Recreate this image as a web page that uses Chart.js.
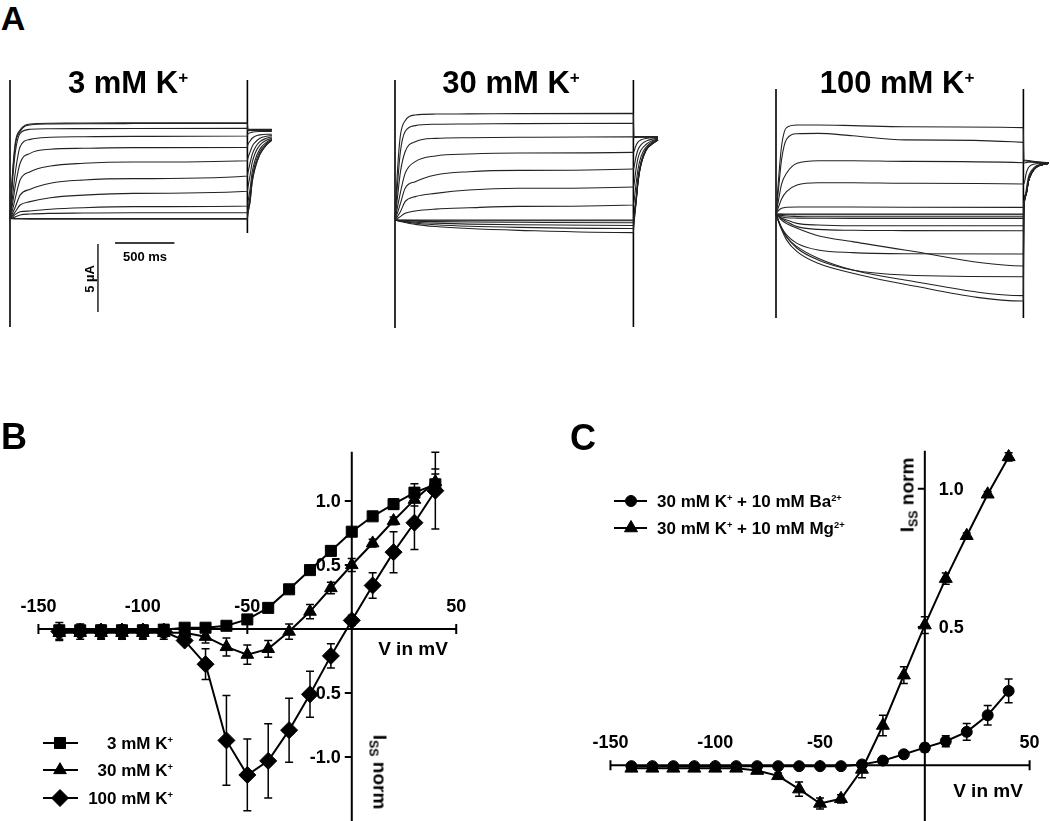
<!DOCTYPE html>
<html>
<head>
<meta charset="utf-8">
<script src="https://cdn.jsdelivr.net/npm/chart.js@4.4.1/dist/chart.umd.min.js"></script>
<style>
  body { margin: 0; width: 1050px; height: 821px; overflow: hidden; position: relative; background: #fff;
         font-family: "Liberation Sans", Arial, sans-serif; font-weight: bold; color: #000; }
  canvas { position: absolute; }
  .t { position: absolute; white-space: nowrap; line-height: 1; z-index: 2; }
  .t sup { font-size: 55%; line-height: 0; vertical-align: 0.55em; }
  .t sub { font-size: 65%; line-height: 0; vertical-align: -0.3em; }
</style>
</head>
<body>
<script>
// ---------- data ----------

// panel A: sample times (ms) during the 2 s step and during the tail
const aTime = [0, 20, 45, 85, 170, 340, 620, 1040, 2000];
const aTailTime = [2003, 2023, 2040, 2065, 2105, 2160, 2206];

// 3 mM K+ currents (uA), one row per voltage step
const k3Pulse = [
  [0, 3.2, 5.6, 6.5, 6.95, 7.0, 7.02, 7.03, 7.04],
  [0, 3.0, 5.4, 6.4, 6.88, 6.95, 6.97, 6.98, 6.99],
  [0, 2.6, 4.9, 6.26, 6.56, 6.60, 6.61, 6.62, 6.63],
  [0, 1.5, 3.4, 5.28, 5.82, 5.97, 6.01, 6.04, 6.07],
  [0, 1.0, 2.4, 4.06, 4.79, 5.09, 5.16, 5.21, 5.23],
  [0, 0.6, 1.5, 2.83, 3.44, 3.86, 4.06, 4.15, 4.25],
  [0, 0.35, 0.85, 1.72, 2.15, 2.59, 2.83, 2.93, 3.13],
  [0, 0.2, 0.5, 0.99, 1.24, 1.53, 1.72, 1.85, 2.0],
  [0, 0.12, 0.3, 0.5, 0.55, 0.68, 0.79, 0.87, 0.92],
  [0, 0.05, 0.12, 0.26, 0.33, 0.38, 0.40, 0.42, 0.43],
  [0, 0, 0, 0, 0, 0, 0, 0, 0],
  [0, -0.02, -0.03, -0.04, -0.05, -0.05, -0.05, -0.05, -0.05]
];
const k3Tail = [
  [6.56, 6.56, 6.56, 6.55, 6.55, 6.55, 6.55],
  [6.52, 6.52, 6.52, 6.52, 6.52, 6.52, 6.52],
  [6.45, 6.47, 6.48, 6.48, 6.48, 6.48, 6.48],
  [6.2, 6.3, 6.35, 6.38, 6.4, 6.4, 6.4],
  [5.4, 5.7, 5.9, 6.05, 6.15, 6.2, 6.2],
  [4.4, 4.9, 5.3, 5.6, 5.9, 6.05, 6.1],
  [3.3, 4.1, 4.7, 5.2, 5.65, 5.9, 6.0],
  [2.2, 3.2, 4.1, 4.8, 5.4, 5.75, 5.9],
  [1.1, 2.2, 3.4, 4.3, 5.1, 5.6, 5.82],
  [0.6, 1.7, 3.0, 4.0, 4.9, 5.5, 5.78],
  [0.3, 1.3, 2.7, 3.74, 4.72, 5.42, 5.75],
  [0.25, 1.25, 2.65, 3.7, 4.7, 5.4, 5.74]
];
const k3OnSpike = [10.18, -7.98];
const k3OffSpike = [10.18, -1.07];

// 30 mM K+
const k30Pulse = [
  [0, 3.5, 6.2, 7.3, 7.72, 7.79, 7.80, 7.82, 7.84],
  [0, 2.5, 5.0, 6.5, 6.94, 7.04, 7.06, 7.09, 7.11],
  [0, 1.6, 3.5, 5.02, 5.76, 6.0, 6.05, 6.08, 6.12],
  [0, 0.9, 2.0, 3.43, 4.29, 4.71, 4.85, 4.93, 4.97],
  [0, 0.5, 1.2, 2.33, 2.82, 3.31, 3.55, 3.65, 3.75],
  [0, 0.25, 0.6, 1.35, 1.72, 1.96, 2.21, 2.33, 2.43],
  [0, 0.1, 0.25, 0.49, 0.66, 0.8, 0.9, 1.0, 1.1],
  [0, 0, 0, 0, 0, 0, 0, 0, 0],
  [0, -0.01, -0.02, -0.03, -0.04, -0.05, -0.05, -0.05, -0.05],
  [0, -0.02, -0.04, -0.06, -0.09, -0.12, -0.15, -0.17, -0.2],
  [0, -0.03, -0.06, -0.1, -0.16, -0.23, -0.3, -0.35, -0.4],
  [0, -0.04, -0.08, -0.14, -0.24, -0.35, -0.46, -0.54, -0.62],
  [0, -0.05, -0.1, -0.18, -0.32, -0.48, -0.63, -0.76, -0.93]
];
const k30Tail = [
  [6.13, 6.13, 6.13, 6.13, 6.13, 6.13, 6.13],
  [6.1, 6.1, 6.1, 6.1, 6.1, 6.1, 6.1],
  [6.05, 6.07, 6.08, 6.08, 6.08, 6.08, 6.08],
  [5.0, 5.5, 5.75, 5.9, 6.0, 6.05, 6.05],
  [3.8, 4.7, 5.2, 5.55, 5.8, 5.95, 6.0],
  [2.5, 3.8, 4.6, 5.15, 5.55, 5.85, 5.95],
  [1.2, 2.7, 3.8, 4.7, 5.35, 5.75, 5.92],
  [0.2, 1.6, 3.1, 4.3, 5.2, 5.65, 5.9],
  [0.15, 1.55, 3.05, 4.25, 5.18, 5.64, 5.9],
  [0.05, 1.5, 3.0, 4.2, 5.15, 5.63, 5.89],
  [-0.1, 1.45, 2.95, 4.18, 5.13, 5.62, 5.89],
  [-0.3, 1.4, 2.9, 4.15, 5.12, 5.61, 5.88],
  [-0.5, 1.3, 2.85, 4.1, 5.1, 5.6, 5.88]
];
const k30OnSpike = [10.3, -7.94];
const k30OffSpike = [10.3, -7.87];

// 100 mM K+
const k100Pulse = [
  [0, 2.5, 5.0, 6.35, 6.54, 6.54, 6.5, 6.42, 6.35],
  [0, 1.8, 4.0, 5.5, 5.9, 5.93, 5.75, 5.45, 5.27],
  [0, 1.0, 2.2, 3.0, 3.73, 3.92, 3.92, 3.87, 3.77],
  [0, 0.5, 1.1, 1.64, 2.13, 2.3, 2.3, 2.26, 2.21],
  [0, 0.25, 0.42, 0.5, 0.52, 0.52, 0.51, 0.5, 0.49],
  [0, 0, 0, 0, 0, 0, 0, 0, 0],
  [0, -0.02, -0.03, -0.05, -0.05, -0.05, -0.05, -0.05, -0.05],
  [0, -0.05, -0.1, -0.15, -0.18, -0.2, -0.2, -0.2, -0.2],
  [0, -0.1, -0.2, -0.28, -0.3, -0.31, -0.32, -0.32, -0.32],
  [0, -0.15, -0.3, -0.44, -0.69, -0.81, -0.86, -0.86, -0.86],
  [0, -0.15, -0.35, -0.56, -0.93, -1.13, -1.2, -1.22, -1.23],
  [0, -0.5, -1.0, -1.54, -2.16, -2.65, -2.84, -2.92, -2.94],
  [0, -0.2, -0.45, -0.7, -1.05, -1.6, -2.03, -2.65, -3.82],
  [0, -0.5, -1.05, -1.67, -2.52, -3.38, -4.12, -4.49, -4.61],
  [0, -0.5, -1.05, -1.7, -2.4, -3.25, -4.12, -4.85, -6.0],
  [0, -0.55, -1.15, -1.9, -2.77, -3.63, -4.36, -5.17, -6.40]
];
const k100Tail = [
  [3.95, 3.95, 3.93, 3.9, 3.85, 3.8, 3.78],
  [3.9, 3.9, 3.88, 3.86, 3.82, 3.78, 3.76],
  [3.75, 3.78, 3.8, 3.8, 3.78, 3.76, 3.75],
  [2.2, 3.0, 3.4, 3.6, 3.7, 3.72, 3.74],
  [0.6, 1.8, 2.7, 3.2, 3.55, 3.68, 3.73],
  [0.5, 1.5, 2.4, 3.0, 3.45, 3.65, 3.73]
];
const k100OnSpike = [9.19, -7.65];
const k100OffSpike = [9.19, -7.65];

const scaleBarMs = 500;
const scaleBarUA = 5;

// panels B and C: steady state current vs voltage
const ivVolt = [-140, -130, -120, -110, -100, -90, -80, -70, -60, -50, -40, -30, -20, -10, 0, 10, 20, 30, 40];
const b3mM      = [-0.01, -0.01, -0.01, -0.01, -0.01, -0.005, 0.01, 0.01, 0.025, 0.075, 0.165, 0.31, 0.46, 0.61, 0.76, 0.88, 0.975, 1.065, 1.13];
const b3mMErr   = [0.02, 0.02, 0.02, 0.02, 0.02, 0.02, 0.02, 0.02, 0.02, 0.02, 0.02, 0.02, 0.03, 0.03, 0.03, 0.03, 0.04, 0.07, 0.08];
const b30mM     = [-0.03, -0.03, -0.03, -0.03, -0.03, -0.03, -0.03, -0.06, -0.14, -0.20, -0.155, -0.02, 0.136, 0.32, 0.50, 0.67, 0.845, 1.01, 1.15];
const b30mMErr  = [0.05, 0.05, 0.05, 0.05, 0.05, 0.05, 0.04, 0.05, 0.07, 0.075, 0.065, 0.06, 0.055, 0.045, 0.05, 0.03, 0.03, 0.05, 0.1];
const b100mM    = [-0.02, -0.02, -0.02, -0.02, -0.02, -0.02, -0.09, -0.275, -0.87, -1.14, -1.03, -0.79, -0.51, -0.21, 0.067, 0.34, 0.60, 0.83, 1.08];
const b100mMErr = [0.07, 0.06, 0.05, 0.05, 0.05, 0.04, 0.03, 0.12, 0.35, 0.28, 0.29, 0.25, 0.18, 0.095, 0.04, 0.1, 0.16, 0.21, 0.3];

const cBa    = [-0.003, -0.003, -0.003, -0.003, -0.003, -0.003, -0.003, -0.003, -0.003, -0.003, -0.003, 0.003, 0.017, 0.04, 0.064, 0.087, 0.121, 0.181, 0.269];
const cBaErr = [0.004, 0.004, 0.004, 0.004, 0.004, 0.004, 0.004, 0.004, 0.004, 0.004, 0.004, 0.006, 0.01, 0.012, 0.015, 0.02, 0.03, 0.035, 0.043];
const cMg    = [-0.011, -0.011, -0.011, -0.011, -0.011, -0.011, -0.019, -0.038, -0.086, -0.138, -0.121, -0.015, 0.144, 0.326, 0.507, 0.675, 0.83, 0.98, 1.115];
const cMgErr = [0.008, 0.008, 0.008, 0.008, 0.008, 0.008, 0.008, 0.01, 0.026, 0.02, 0.015, 0.03, 0.037, 0.03, 0.03, 0.02, 0.01, 0.01, 0.015];

const ivXTicks = [-150, -100, -50, 0, 50];
const ivXTickLabels = ['-150', '-100', '-50', '', '50'];
const bYTicks = [1.0, 0.5, -0.5, -1.0];
const bYTickLabels = ['1.0', '0.5', '-0.5', '-1.0'];
const cYTicks = [1.0, 0.5];
const cYTickLabels = ['1.0', '0.5'];

// ---------- helpers ----------

const FONT = '"Liberation Sans", Arial, sans-serif';

function put(html, x, y, size, align, rot) {
  let d = document.createElement('div');
  d.className = 't';
  d.innerHTML = html;
  d.style.left = x + 'px';
  d.style.top = y + 'px';
  d.style.fontSize = size + 'px';
  let tx = align === 'right' ? '-100%' : align === 'left' ? '0' : '-50%';
  d.style.transform = 'translate(' + tx + ',-50%)' + (rot ? ' rotate(' + rot + 'deg)' : '');
  document.body.appendChild(d);
}

// rect in page px; xMap / yMap say which page pixel a value sits on and px per unit
function makeChart(rect, xMap, yMap, datasets, plugins) {
  let cv = document.createElement('canvas');
  cv.width = rect.w;
  cv.height = rect.h;
  cv.style.left = rect.x + 'px';
  cv.style.top = rect.y + 'px';
  document.body.appendChild(cv);
  return new Chart(cv, {
    type: 'line',
    data: { datasets: datasets },
    options: {
      responsive: false,
      animation: false,
      events: [],
      layout: { padding: 0 },
      plugins: { legend: { display: false }, tooltip: { enabled: false } },
      scales: {
        x: { type: 'linear', display: false,
             min: (rect.x - xMap.px) / xMap.ppu,
             max: (rect.x + rect.w - xMap.px) / xMap.ppu },
        y: { type: 'linear', display: false,
             min: -(rect.y + rect.h - yMap.px) / yMap.ppu,
             max: (yMap.px - rect.y) / yMap.ppu }
      }
    },
    plugins: plugins || []
  });
}

function traceSets(pulse, tail, onSpike, offSpike) {
  let times = aTime.concat(aTailTime);
  let sets = pulse.map(function (row, i) {
    let vals = row.concat(tail[Math.min(i, tail.length - 1)]);
    return {
      data: times.map(function (t, j) { return { x: t, y: vals[j] }; }),
      borderColor: '#222', borderWidth: 1.1, pointRadius: 0,
      cubicInterpolationMode: 'monotone', fill: false
    };
  });
  [[0, onSpike], [aTime[aTime.length - 1], offSpike]].forEach(function (s) {
    sets.push({
      data: [{ x: s[0], y: s[1][0] }, { x: s[0], y: s[1][1] }],
      borderColor: '#000', borderWidth: 1.6, pointRadius: 0, tension: 0
    });
  });
  return sets;
}

// scale bars drawn through the 3 mM chart's scales
const scaleBarPlugin = {
  id: 'scaleBar',
  afterDatasetsDraw(chart) {
    let ctx = chart.ctx, xs = chart.scales.x, ys = chart.scales.y;
    ctx.save();
    ctx.strokeStyle = '#000';
    ctx.lineWidth = 1.3;
    ctx.beginPath();
    let hy = ys.getPixelForValue(-1.8);
    ctx.moveTo(xs.getPixelForValue(885), hy);
    ctx.lineTo(xs.getPixelForValue(885 + scaleBarMs), hy);
    let vx = xs.getPixelForValue(741);
    ctx.moveTo(vx, ys.getPixelForValue(-1.88));
    ctx.lineTo(vx, ys.getPixelForValue(-1.88 - scaleBarUA));
    ctx.stroke();
    ctx.restore();
  }
};

function ivAxes(o) {
  return {
    id: 'ivAxes',
    beforeDatasetsDraw(chart) {
      let ctx = chart.ctx, xs = chart.scales.x, ys = chart.scales.y;
      let ox = xs.getPixelForValue(0), oy = ys.getPixelForValue(0);
      ctx.save();
      ctx.strokeStyle = '#000';
      ctx.fillStyle = '#000';
      ctx.lineWidth = 2;
      ctx.beginPath();
      ctx.moveTo(xs.getPixelForValue(ivXTicks[0]), oy);
      ctx.lineTo(xs.getPixelForValue(ivXTicks[ivXTicks.length - 1]), oy);
      ctx.moveTo(ox, ys.getPixelForValue(o.yTop));
      ctx.lineTo(ox, chart.height);
      ivXTicks.forEach(function (v) {
        let px = xs.getPixelForValue(v);
        ctx.moveTo(px, oy - 5);
        ctx.lineTo(px, oy + 5);
      });
      o.yTicks.forEach(function (v) {
        let py = ys.getPixelForValue(v);
        ctx.moveTo(ox - 7, py);
        ctx.lineTo(ox, py);
      });
      ctx.stroke();

      ctx.font = 'bold 18px ' + FONT;
      ctx.textBaseline = 'middle';
      ctx.textAlign = 'center';
      ivXTickLabels.forEach(function (s, i) {
        ctx.fillText(s, xs.getPixelForValue(ivXTicks[i]), oy - 22);
      });
      ctx.textAlign = o.yLabelLeft ? 'right' : 'left';
      o.yTickLabels.forEach(function (s, i) {
        ctx.fillText(s, ox + (o.yLabelLeft ? -11 : 14), ys.getPixelForValue(o.yTicks[i]) + 1);
      });

      // error bars
      ctx.lineWidth = 1.5;
      ctx.beginPath();
      o.errors.forEach(function (pair) {
        ivVolt.forEach(function (v, i) {
          let px = xs.getPixelForValue(v);
          let lo = ys.getPixelForValue(pair[0][i] - pair[1][i]);
          let hi = ys.getPixelForValue(pair[0][i] + pair[1][i]);
          ctx.moveTo(px, lo); ctx.lineTo(px, hi);
          ctx.moveTo(px - 4, lo); ctx.lineTo(px + 4, lo);
          ctx.moveTo(px - 4, hi); ctx.lineTo(px + 4, hi);
        });
      });
      ctx.stroke();
      ctx.restore();
    },
    afterDatasetsDraw(chart) {
      let ctx = chart.ctx;
      ctx.save();
      ctx.strokeStyle = '#000';
      ctx.fillStyle = '#000';
      o.legend.forEach(function (it, i) {
        let ds = chart.data.datasets[i];
        let y = it.y - o.rect.y;
        ctx.lineWidth = 2;
        ctx.beginPath();
        ctx.moveTo(o.legendX[0] - o.rect.x, y);
        ctx.lineTo(o.legendX[1] - o.rect.x, y);
        ctx.stroke();
        ctx.lineWidth = 1;
        Chart.helpers.drawPoint(ctx, { pointStyle: ds.pointStyle, radius: ds.pointRadius, rotation: 0, borderWidth: 1 },
          o.legendX[2] - o.rect.x, y);
      });
      ctx.restore();
    }
  };
}

function ivSet(vals, style, r) {
  return {
    data: ivVolt.map(function (v, i) { return { x: v, y: vals[i] }; }),
    borderColor: '#000', borderWidth: 2, tension: 0, fill: false,
    pointStyle: style, pointRadius: r, pointBackgroundColor: '#000',
    pointBorderColor: '#000', pointBorderWidth: 1
  };
}

// ---------- panel A ----------
makeChart({ x: 0, y: 60, w: 300, h: 290 }, { px: 10, ppu: 0.1187 }, { px: 218.5, ppu: 13.6 },
  traceSets(k3Pulse, k3Tail, k3OnSpike, k3OffSpike), [scaleBarPlugin]);
makeChart({ x: 360, y: 60, w: 320, h: 290 }, { px: 395, ppu: 0.1192 }, { px: 220, ppu: 13.6 },
  traceSets(k30Pulse, k30Tail, k30OnSpike, k30OffSpike));
makeChart({ x: 740, y: 60, w: 310, h: 290 }, { px: 776, ppu: 0.1237 }, { px: 214, ppu: 13.6 },
  traceSets(k100Pulse, k100Tail, k100OnSpike, k100OffSpike));

// ---------- panel B ----------
const bRect = { x: 0, y: 425, w: 530, h: 396 };
makeChart(bRect, { px: 355, ppu: 2.1667 }, { px: 629.3, ppu: 134.5 },
  [ivSet(b3mM, 'rect', 7.8), ivSet(b30mM, 'triangle', 7.3), ivSet(b100mM, 'rectRot', 8.5)],
  [ivAxes({
    rect: bRect, yTop: 1.385, yTicks: bYTicks, yTickLabels: bYTickLabels, yLabelLeft: true,
    errors: [[b3mM, b3mMErr], [b30mM, b30mMErr], [b100mM, b100mMErr]],
    legendX: [43, 78, 60], legend: [{ y: 743 }, { y: 770 }, { y: 798 }]
  })]);

// ---------- panel C ----------
const cRect = { x: 540, y: 425, w: 510, h: 396 };
makeChart(cRect, { px: 929.3, ppu: 2.168 }, { px: 771.7, ppu: 289 },
  [ivSet(cBa, 'circle', 5.5), ivSet(cMg, 'triangle', 7.5)],
  [ivAxes({
    rect: cRect, yTop: 1.137, yTicks: cYTicks, yTickLabels: cYTickLabels, yLabelLeft: false,
    errors: [[cBa, cBaErr], [cMg, cMgErr]],
    legendX: [614, 647, 631], legend: [{ y: 501 }, { y: 528 }]
  })]);

// ---------- text ----------
put('A', 13, 18, 34);
put('B', 14, 437, 36);
put('C', 583, 438, 36);
put('3 mM K<sup>+</sup>', 128, 82, 31);
put('30 mM K<sup>+</sup>', 511, 82, 31);
put('100 mM K<sup>+</sup>', 897, 82, 31);
put('500 ms', 145, 256, 13);
put('5 µA', 89, 279, 13, 'center', -90);

put('V in mV', 413, 648, 19);
put('I<sub>SS</sub> norm', 380, 772, 19, 'center', 90);
put('3 mM K<sup>+</sup>', 173, 743, 17, 'right');
put('30 mM K<sup>+</sup>', 173, 770, 17, 'right');
put('100 mM K<sup>+</sup>', 173, 798, 17, 'right');

put('V in mV', 988, 790, 19);
put('I<sub>SS</sub> norm', 907, 495, 19, 'center', -90);
put('30 mM K<sup>+</sup> + 10 mM Ba<sup>2+</sup>', 657, 501, 17, 'left');
put('30 mM K<sup>+</sup> + 10 mM Mg<sup>2+</sup>', 657, 528, 17, 'left');
</script>
</body>
</html>
